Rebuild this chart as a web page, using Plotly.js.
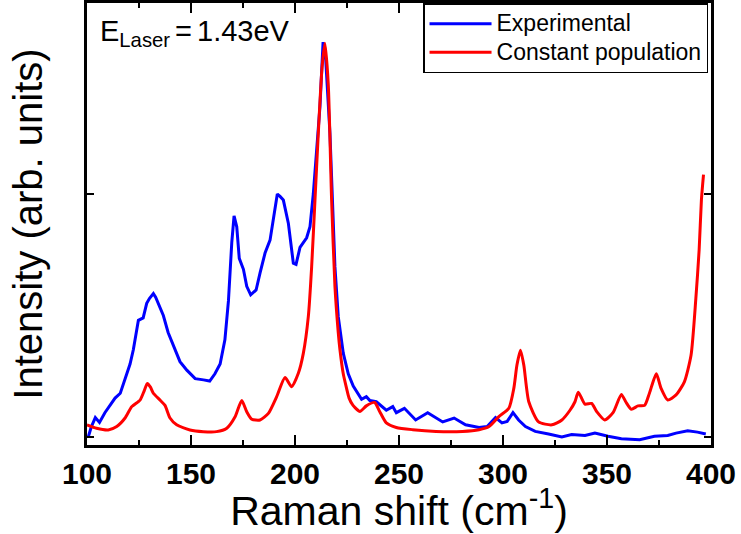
<!DOCTYPE html>
<html>
<head>
<meta charset="utf-8">
<script src="https://cdn.plot.ly/plotly-3.0.1.min.js"></script>
<style>html,body{margin:0;padding:0;background:#fff;}#chart{width:741px;height:534px;}</style>
</head>
<body>
<div id="chart"></div>
<script>
// Experimental spectrum (Raman shift in cm-1, intensity in arb. units)
const expX = [100.6,102,104,106,108.6,111,113.5,116,118,120.7,122.3,124.7,127,128.7,130,131.9,133,134.3,136.7,139,142.3,144.7,148,152,156,159,161.5,164,166.3,168,169.6,170.7,172,173.2,175.2,176.8,178.7,181.3,183.2,185.6,188,189.6,191.5,192.8,194.4,196.8,199.2,200.5,202.4,205.6,207.2,208.8,210.4,212,213.5,214.8,216.8,219.2,220.8,223.2,225.6,228,232,234.3,236,239.1,243.9,247,248.7,252.6,258,263.8,271,276.5,282,288.5,292.4,296.4,299.5,302,304.8,307.5,310.8,315.5,321.9,328.3,333,339.4,344.2,350.5,356.9,365.7,372.8,379.2,383.2,388.8,393.5,397.5];
const expY = [0.0,0.04,0.08,0.06,0.10,0.13,0.16,0.18,0.23,0.30,0.36,0.48,0.49,0.55,0.57,0.59,0.575,0.55,0.50,0.43,0.36,0.31,0.275,0.24,0.235,0.23,0.26,0.30,0.40,0.56,0.80,0.91,0.865,0.735,0.69,0.62,0.585,0.605,0.675,0.757,0.81,0.89,1.00,0.99,0.975,0.88,0.715,0.71,0.78,0.82,0.865,1.0,1.18,1.36,1.625,1.55,1.25,0.70,0.495,0.345,0.26,0.21,0.155,0.166,0.15,0.145,0.11,0.125,0.10,0.118,0.07,0.10,0.062,0.078,0.05,0.039,0.043,0.08,0.058,0.064,0.10,0.07,0.043,0.023,0.012,0.0,0.01,0.006,0.016,0.003,-0.007,-0.011,0.003,0.006,0.016,0.026,0.02,0.012];

// Constant population model
const modX = [100,104.6,110.2,114.3,118.3,121.5,125.5,127.5,129,130.5,131.9,135.1,137.5,139.9,143.1,149.5,155.9,162.3,167.2,171.2,174.4,176.8,179.2,183.2,187.2,191.2,195.2,198.4,201.6,204,206.4,208,209.6,211.2,213,214.4,216,217.6,219.2,220.8,221.6,223.2,224.8,226,227.9,231.2,234.3,238.3,240.7,243.9,248.7,256.6,267.8,280.5,288.5,293.3,298,302.8,305.2,306.7,308.4,310,312.4,317.1,323.5,328.3,332.2,334.6,336.2,339.4,342.6,345,348.9,352.9,356.9,359,361.7,364.9,368.1,370.4,373.7,376,379.2,383.2,387.2,390.4,392.7,394.3,395.4,396.4];
const modY = [0.05,0.036,0.029,0.043,0.078,0.125,0.152,0.19,0.22,0.205,0.18,0.152,0.13,0.078,0.05,0.029,0.022,0.022,0.036,0.083,0.15,0.104,0.073,0.07,0.097,0.166,0.245,0.207,0.262,0.344,0.495,0.70,0.975,1.25,1.52,1.62,1.45,0.975,0.62,0.43,0.36,0.26,0.20,0.16,0.13,0.105,0.128,0.142,0.105,0.058,0.039,0.03,0.023,0.023,0.03,0.043,0.084,0.118,0.20,0.296,0.357,0.296,0.145,0.062,0.05,0.07,0.11,0.145,0.184,0.135,0.138,0.105,0.07,0.10,0.175,0.145,0.114,0.128,0.13,0.18,0.26,0.20,0.152,0.173,0.227,0.336,0.568,0.77,0.977,1.08];

const seriesNames = ["Experimental", "Constant population"];
const xTickVals = [100,150,200,250,300,350,400];
const yTickVals = [0,1];
const sp = '<span style="font-size:18px"> </span>';
const laserLabel = "E<sub>Laser</sub>" + sp + "=" + sp + "1.43eV";

const FONT = "Liberation Sans, Arial, Helvetica, sans-serif";
const legendName = s => '<span style="font-size:23px">' + s + '</span>';

const traces = [
  {x: expX, y: expY, name: legendName(seriesNames[0]), type: "scatter", mode: "lines",
   line: {color: "rgb(0,0,255)", width: 3}},
  {x: modX, y: modY, name: legendName(seriesNames[1]), type: "scatter", mode: "lines",
   line: {color: "rgb(255,0,0)", width: 3, shape: "spline", smoothing: 0.6}}
];

const axisCommon = {
  showline: true, linecolor: "black", linewidth: 3, mirror: "ticks",
  ticks: "inside", tickcolor: "black", tickwidth: 2,
  showgrid: false, zeroline: false
};

const layout = {
  width: 741, height: 534,
  margin: {l: 87, r: 30, t: 3, b: 89},
  paper_bgcolor: "white", plot_bgcolor: "white",
  font: {family: FONT, color: "black"},
  showlegend: true,
  legend: {
    x: 0.5385, y: 1, xanchor: "left", yanchor: "top",
    bgcolor: "white", bordercolor: "black", borderwidth: 1.5,
    font: {family: FONT, size: 19.6, color: "black"},
    itemwidth: 62, tracegroupgap: 0
  },
  xaxis: Object.assign({}, axisCommon, {
    range: [100, 400], tickvals: xTickVals, ticklen: 10,
    minor: {dtick: 25, ticks: "inside", ticklen: 5, tickwidth: 2, tickcolor: "black"},
    tickfont: {family: FONT, size: 30, weight: "bold", color: "black"},
    title: {text: "Raman shift (cm<sup>-1</sup>)", font: {family: FONT, size: 41, color: "black"}, standoff: 4}
  }),
  yaxis: Object.assign({}, axisCommon, {
    range: [-0.033, 1.786], tickvals: yTickVals, ticklen: 7, showticklabels: false,
    title: {text: "Intensity (arb. units)", font: {family: FONT, size: 40, color: "black"}, standoff: 30}
  }),
  annotations: [{
    text: laserLabel, xref: "paper", yref: "paper", x: 0.018, y: 0.978,
    xanchor: "left", yanchor: "top", showarrow: false,
    font: {family: FONT, size: 29, color: "black"}
  }]
};

Plotly.newPlot("chart", traces, layout, {displayModeBar: false, staticPlot: true});
</script>
</body>
</html>
